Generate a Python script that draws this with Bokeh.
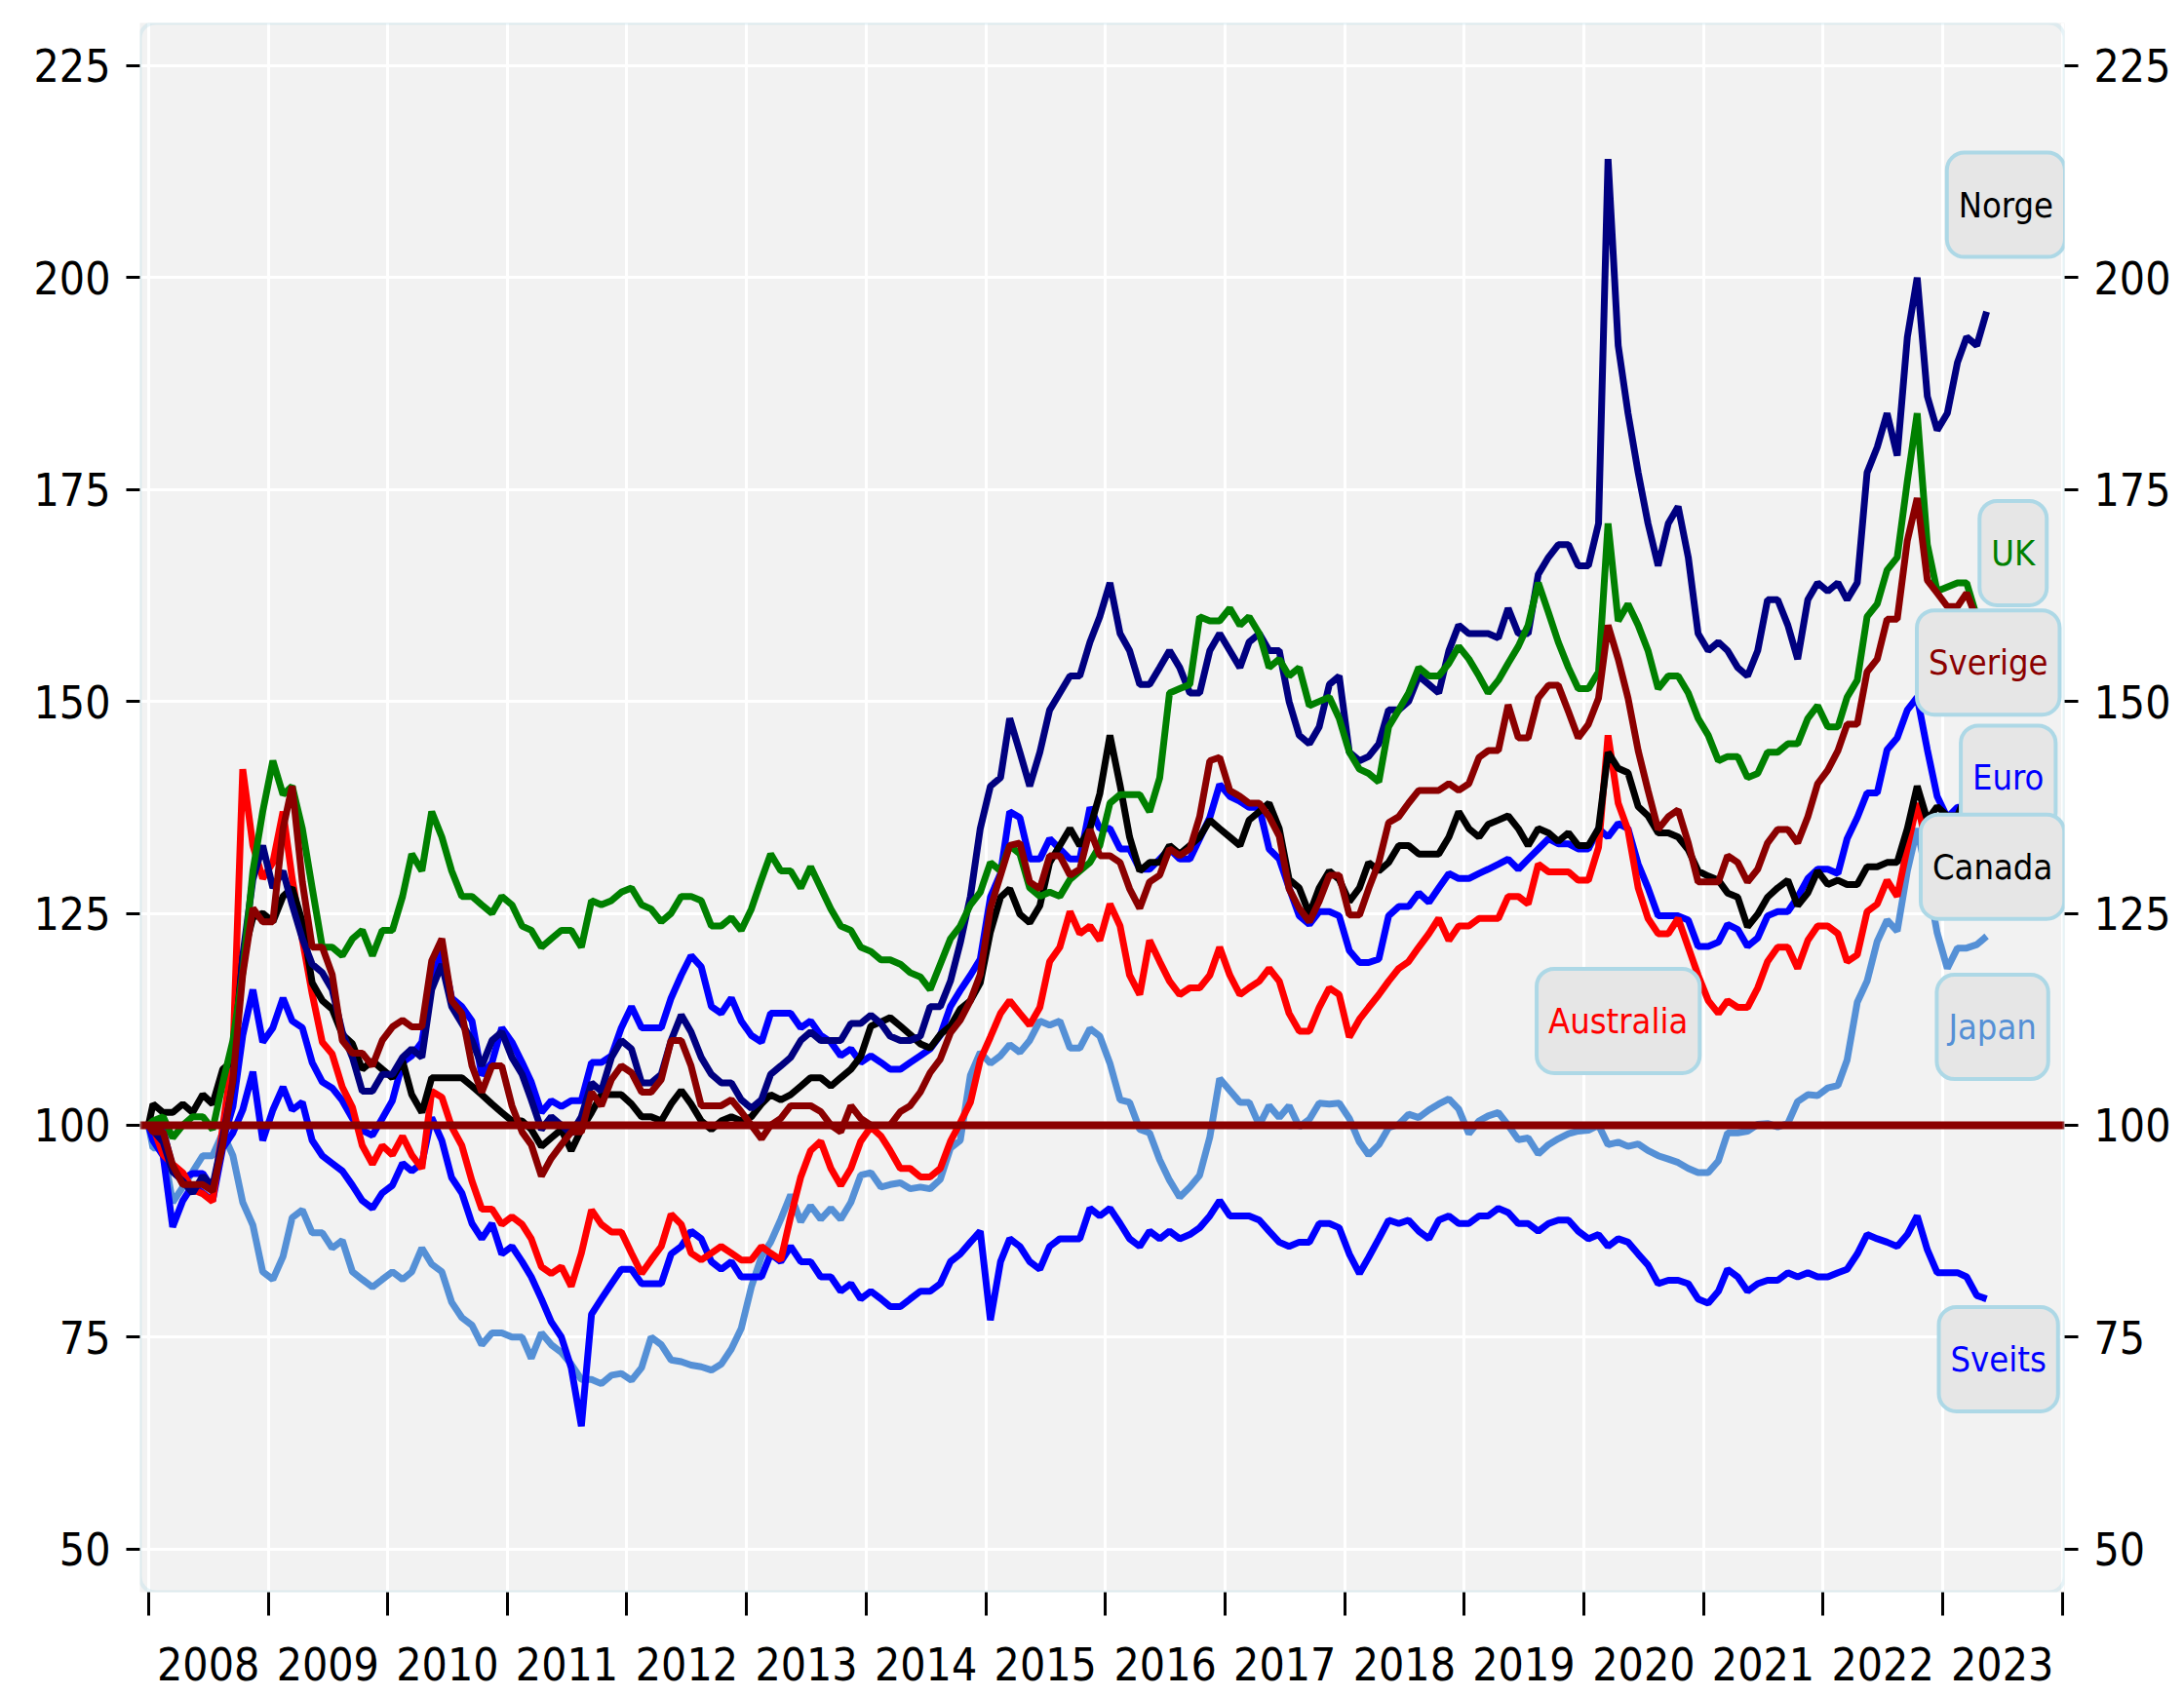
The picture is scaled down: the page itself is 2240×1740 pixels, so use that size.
import pandas as pd
from bokeh.plotting import figure
from bokeh.models import (Range1d, LinearAxis, FixedTicker, CustomJSTickFormatter,
                          Span, Label, BoxAnnotation, ColumnDataSource)
from bokeh.embed import file_html
from bokeh.resources import INLINE

# ---------------- data (index, start of 2008 = 100) ----------------
start_date = "2008-01-01"
first_month = "2008-01-01"
last_month = "2023-05-01"

norge = [100,
 99.4, 98.0, 94.5, 93.4, 92.0, 94.0, 92.8, 98.5, 105.0, 120.0, 129.0, 133.0,
 128, 130, 126, 122, 119, 118, 116, 111, 108, 104, 104, 106,
 106, 108, 109, 108, 116, 119, 114, 112, 110, 107, 110, 111,
 108, 106, 103, 99.5, 101, 100, 99, 101, 105, 104, 108, 110,
 109, 105, 105, 106, 110, 113, 111, 108, 106, 105, 105, 103,
 102, 103, 106, 107, 108, 110, 111, 110, 110, 110, 112, 112,
 113, 112, 110.5, 110, 110, 110.5, 114, 114, 117, 121.5, 127, 135,
 140, 141, 148, 144, 140, 144, 149, 151, 153, 153, 157, 160,
 164, 158, 156, 152, 152, 154, 156, 154, 151, 151, 156, 158,
 156, 154, 157, 158, 156, 156, 150, 146, 145, 147, 152, 153,
 144, 143, 143.5, 145, 149, 149, 150, 153, 152, 151, 156, 159,
 158, 158, 158, 157.5, 161, 158, 158, 165, 167, 168.5, 168.5, 166,
 166, 171, 214, 192, 184, 177, 171, 166, 171, 173, 167, 158,
 156, 157, 156, 154, 153, 156, 162, 162, 159, 155, 162, 164,
 163, 164, 162, 164, 177, 180, 184, 179, 193, 200, 186, 182,
 184, 190, 193, 192, 196]

uk = [100,
 100.5, 101, 98.5, 100, 101, 101, 99.5, 105, 110, 118, 130, 137,
 143, 139, 140, 135, 128, 121, 121, 120, 122, 123, 120, 123,
 123, 127, 132, 130, 137, 134, 130, 127, 127, 126, 125, 127,
 126, 123.5, 123, 121, 122, 123, 123, 121, 126.5, 126, 126.5, 127.5,
 128, 126, 125.5, 124, 125, 127, 127, 126.5, 123.5, 123.5, 124.5, 123,
 125.5, 129, 132, 130, 130, 128, 130.5, 128, 125.5, 123.5, 123, 121,
 120.5, 119.5, 119.5, 119, 118, 117.5, 116, 119, 122, 123.5, 126, 127.5,
 131, 130, 133, 132, 128, 127, 127.5, 127, 129, 130, 131, 133,
 138, 139, 139, 139, 137, 141, 151, 151.5, 152, 160, 159.5, 159.5,
 161, 159, 160, 158, 154, 155, 153, 154, 149.5, 150, 150.5, 148,
 144, 142, 141.5, 140.5, 147, 149, 151, 154, 153, 153, 154.5, 156.5,
 155, 153, 151, 152.5, 154.5, 156.5, 159, 164, 160.5, 157, 154, 151.5,
 151.5, 153.5, 171, 159.5, 161.5, 159, 156, 151.5, 153, 153, 151, 148,
 146, 143, 143.5, 143.5, 141, 141.5, 144, 144, 145, 145, 148, 149.5,
 147, 147, 150.5, 152.5, 160, 161.5, 165.5, 167, 176, 184, 168.5, 163,
 163.5, 164, 164, 160, 159]

sverige = [100,
 99.2, 99.2, 95.3, 93, 93, 93, 92.2, 97.7, 105.4, 117.8, 125.6, 124,
 124, 135, 140, 128.7, 121, 121, 117.8, 110, 108.5, 108.5, 107, 110,
 111.6, 112.4, 111.6, 111.6, 119.4, 122, 114.7, 113.2, 107, 103.9, 107, 107,
 102.3, 99.2, 97.7, 94, 96.1, 97.7, 99.2, 99.2, 103.9, 102.3, 105.4, 107,
 106.2, 103.9, 103.9, 105.4, 110, 110, 107, 102.3, 102.3, 102.3, 103, 101.6,
 100, 98.4, 100, 100.8, 102.3, 102.3, 102.3, 101.6, 100, 99.2, 102.3, 100.8,
 100, 100, 100, 101.6, 102.3, 103.9, 106.2, 107.8, 110.9, 112.4, 114.7, 117.8,
 125.6, 129.5, 133, 133.3, 128.7, 127.9, 131.8, 131.8, 129.5, 130.2, 134.9, 131.8,
 131.8, 131, 127.9, 125.6, 128.7, 129.5, 132.6, 131.8, 132.6, 136.4, 143, 143.4,
 139.5, 138.8, 138, 138, 136.4, 134.1, 127.9, 125.6, 124, 126.4, 129.5, 129.5,
 124.8, 124.8, 127.9, 131, 135.7, 136.4, 138, 139.5, 139.5, 139.5, 140.3, 139.5,
 140.3, 143.4, 144.2, 144.2, 149.6, 145.7, 145.7, 150.4, 151.9, 151.9, 148.8, 145.7,
 147.3, 150.4, 159, 155, 150.4, 144.2, 139.5, 134.9, 136.4, 137.2, 133.3, 128.7,
 128.7, 128.7, 131.8, 131, 128.7, 130.2, 133.3, 134.9, 134.9, 133.3, 136.4, 140.3,
 141.9, 144.2, 147.3, 147.3, 153.5, 155, 159.7, 159.7, 169, 174, 164.3, 162.8,
 161.2, 161.2, 162.8, 159.7, 160.5]

euro = [100,
 100.1, 99.4, 95, 93.7, 94.3, 94.3, 92.5, 98.1, 102.2, 110.6, 116, 109.8,
 111.5, 115, 112.3, 111.5, 107.4, 105.1, 104.4, 102.9, 100.8, 99.4, 98.8, 100.8,
 102.9, 107.4, 108.2, 109.8, 116.8, 120.6, 115, 114, 112.3, 105.9, 107.4, 111.5,
 109.8, 107.4, 105.1, 101.5, 102.9, 102.2, 102.9, 102.9, 107.4, 107.4, 108.2, 111.5,
 114, 111.5, 111.5, 111.5, 115, 117.7, 120, 118.7, 114, 113.2, 115, 112.3,
 110.6, 109.8, 113.2, 113.2, 113.2, 111.5, 112.3, 110.6, 109.8, 108.2, 109, 107.4,
 108.2, 107.4, 106.6, 106.6, 107.4, 108.2, 109, 110.6, 114, 115.9, 117.7, 119.6,
 126.9, 129.7, 137, 136.3, 131.4, 131.4, 133.8, 132.6, 131.4, 131.4, 137.5, 135,
 135, 132.6, 132.6, 130.2, 130.2, 131.4, 132.6, 131.4, 131.4, 133.8, 136.3, 140.2,
 138.8, 138.2, 137.5, 137.5, 132.6, 131.4, 128, 124.7, 123.7, 125.2, 125.2, 124.7,
 120.6, 119.2, 119.2, 119.6, 124.7, 125.8, 125.8, 127.4, 126.3, 128, 129.7, 129.1,
 129.1, 129.7, 130.2, 130.8, 131.4, 130.2, 131.4, 132.6, 133.8, 133.2, 133.2, 132.6,
 132.6, 135, 134, 135.6, 135, 130.8, 128, 124.7, 124.7, 124.7, 124.2, 121.1,
 121.1, 121.6, 123.7, 123.1, 121.1, 122.1, 124.7, 125.2, 125.2, 126.9, 129.1, 130.2,
 130.2, 129.7, 133.8, 136.3, 139.2, 139.2, 144.3, 145.7, 149, 150.5, 144.3, 138.8,
 136.3, 137.5, 137.5, 134.4, 133.8]

canada = [100,
 102.5, 101.5, 101.5, 102.5, 101.5, 103.6, 102.5, 106.6, 107.6, 119.8, 124.5, 125,
 124, 127, 128, 124, 116.8, 114.7, 113.7, 110.7, 109.6, 106.6, 107.6, 106.6,
 105.6, 107.6, 103.6, 101.5, 105.6, 105.6, 105.6, 105.6, 104.6, 103.6, 102.5, 101.5,
 100.5, 100.5, 99.5, 97.5, 98.5, 99.5, 97, 99.5, 101.5, 103.6, 103.6, 103.6,
 102.5, 101, 101, 100.5, 102.5, 104.1, 102.5, 100.5, 99.5, 100.5, 101, 100.5,
 101, 102.5, 103.6, 103, 103.6, 104.6, 105.6, 105.6, 104.6, 105.6, 106.6, 108.1,
 111.7, 112.2, 112.7, 111.7, 110.7, 109.6, 109.1, 110.7, 111.7, 113.7, 114.7, 116.8,
 122.8, 126.9, 127.9, 124.9, 123.9, 125.9, 131, 133, 135, 133, 135, 139.1,
 146, 140.1, 134, 130, 131, 131, 133, 132, 133, 134, 136, 135,
 134, 133, 136, 137, 138, 135, 129, 128, 124.9, 128, 130, 129,
 126.4, 128, 131, 130, 131, 133, 133, 132, 132, 132, 134, 137,
 135, 134, 135.5, 136, 136.5, 135, 133, 135, 134.5, 133.5, 134.5, 133,
 133, 135, 144, 142.1, 141.6, 137.6, 136.5, 134.5, 134.5, 134, 132.5, 130,
 129.4, 128.9, 127.4, 126.9, 123.4, 124.9, 126.9, 128, 128.9, 125.9, 127.4, 130,
 128.4, 128.9, 128.4, 128.4, 130.5, 130.5, 131, 131, 135, 140, 136, 137.6,
 136.5, 136.5, 139.1, 137, 137.6]

australia = [100,
 99.8, 96.5, 95.4, 94.4, 92.4, 91.9, 91, 99.8, 108.4, 142, 133, 129.1,
 131, 137, 129.1, 121.9, 115.5, 109.8, 108.4, 104.5, 102.1, 97.6, 95.4, 97.6,
 96.5, 98.7, 96.5, 94.9, 104, 103.3, 99.8, 97.6, 93.4, 90.1, 90.1, 88.3,
 89.2, 88.3, 86.6, 83.3, 82.5, 83.3, 81, 84.9, 90, 88.3, 87.4, 87.4,
 84.9, 82.5, 84.1, 85.7, 89.5, 88.3, 84.9, 84.1, 84.9, 85.7, 84.9, 84.1,
 84.1, 85.7, 84.9, 84.1, 89.2, 93.9, 97, 98.1, 94.9, 92.9, 94.9, 98.1,
 99.8, 98.7, 97, 94.9, 94.9, 93.9, 93.9, 94.9, 98.1, 100.3, 102.7, 107.7,
 110.4, 113.2, 114.7, 113.2, 111.8, 113.9, 119.3, 121, 125.2, 122.6, 123.5, 121.8,
 126.1, 123.5, 117.7, 115.4, 121.8, 119.3, 117, 115.4, 116.2, 116.2, 117.7, 121,
 117.7, 115.4, 116.2, 117, 118.5, 117, 113.2, 111.1, 111.1, 113.9, 116.2, 115.4,
 110.4, 112.5, 113.9, 115.4, 117, 118.5, 119.3, 121, 122.6, 124.4, 121.8, 123.5,
 123.5, 124.4, 124.4, 124.4, 127, 127, 126.1, 130.8, 129.9, 129.9, 129.9, 128.9,
 128.9, 132.8, 146, 138, 134.8, 128, 124.4, 122.6, 122.6, 124.4, 121, 117.7,
 114.7, 113.2, 114.7, 113.9, 113.9, 116.2, 119.3, 121, 121, 118.5, 121.8, 123.5,
 123.5, 122.6, 119.3, 120.1, 125.2, 126.1, 128.9, 127, 132.8, 138, 132.8, 130.8,
 125.5, 125, 131.8, 131.8, 132.8]

japan = [100,
 97.3, 97.3, 90.9, 92.7, 94.5, 96.4, 96.4, 99.1, 96.4, 90.9, 88.2, 82.7,
 81.8, 84.5, 89.1, 90, 87.3, 87.3, 85.5, 86.4, 82.7, 81.8, 80.9, 81.8,
 82.7, 81.8, 82.7, 85.5, 83.6, 82.7, 79.1, 77.3, 76.4, 74.1, 75.5, 75.5,
 75, 75, 72.5, 75.5, 74.1, 73.2, 71.8, 70, 70, 69.5, 70.5, 70.7,
 69.9, 71.4, 75, 74.1, 72.3, 72.1, 71.7, 71.5, 71.1, 71.8, 73.6, 76,
 80.9, 84.5, 86.2, 88.9, 91.8, 88.6, 90.5, 88.9, 90.2, 88.9, 90.9, 94.1,
 94.4, 92.7, 93, 93.2, 92.5, 92.7, 92.5, 93.6, 97.3, 98.2, 105.9, 108.6,
 107.3, 108.2, 109.5, 108.6, 110, 112.3, 111.8, 112.3, 109.1, 109.1, 111.4, 110.5,
 107.3, 103, 102.7, 99.5, 99.1, 95.9, 93.5, 91.5, 92.7, 94.1, 98.6, 105.5,
 104.1, 102.7, 102.7, 100, 102.3, 100.9, 102.3, 99.8, 100.7, 102.6, 102.5, 102.6,
 100.8, 98, 96.5, 97.7, 99.7, 100.1, 101.3, 100.9, 101.8, 102.5, 103.1, 101.9,
 99, 100.5, 101.1, 101.5, 100, 98.3, 98.5, 96.6, 97.7, 98.4, 99, 99.3,
 99.4, 100, 97.7, 98, 97.5, 97.8, 97, 96.4, 96, 95.6, 94.9, 94.4,
 94.4, 95.8, 99.1, 99.1, 99.3, 100.1, 100.2, 99.8, 100.2, 102.8, 103.6, 103.5,
 104.4, 104.7, 107.7, 114.5, 117, 121.7, 124.2, 122.9, 130, 135, 129.1, 122.7,
 118.5, 120.9, 120.9, 121.3, 122.3]

sveits = [100,
 98.2, 96.4, 88, 91.1, 92.9, 92, 91.1, 97.3, 99.1, 101.8, 106.3, 98.2,
 101.8, 104.5, 101.8, 102.7, 98.2, 96.4, 95.5, 94.6, 92.9, 91.1, 90.2, 92,
 92.9, 95.5, 94.6, 95.5, 100.9, 98.2, 93.8, 92, 88.4, 86.6, 88.4, 84.8,
 85.7, 83.9, 82.1, 79.5, 76.8, 75, 71.4, 64.5, 77.7, 79.5, 81.3, 83,
 83, 81.3, 81.3, 81.3, 84.8, 85.7, 87.5, 86.6, 83.9, 83, 83.9, 82.1,
 82.1, 82.1, 84.8, 83.9, 85.7, 83.9, 83.9, 82.1, 82.1, 80.4, 81.3, 79.5,
 80.4, 79.5, 78.6, 78.6, 79.5, 80.4, 80.4, 81.3, 83.9, 84.8, 86.2, 87.5,
 77, 83.9, 86.6, 85.7, 83.9, 83, 85.7, 86.6, 86.6, 86.6, 90.2, 89.3,
 90.2, 88.4, 86.6, 85.7, 87.5, 86.6, 87.5, 86.6, 87.1, 87.9, 89.3, 91.1,
 89.3, 89.3, 89.3, 88.8, 87.5, 86.2, 85.7, 86.2, 86.2, 88.4, 88.4, 87.9,
 84.8, 82.5, 84.4, 86.6, 88.8, 88.4, 88.8, 87.5, 86.6, 88.8, 89.3, 88.4,
 88.4, 89.3, 89.3, 90.2, 89.7, 88.4, 88.4, 87.5, 88.4, 88.8, 88.8, 87.5,
 86.6, 87.1, 85.7, 86.6, 86.2, 84.8, 83.5, 81.3, 81.7, 81.7, 81.3, 79.5,
 79, 80.4, 83, 82.1, 80.4, 81.3, 81.7, 81.7, 82.6, 82.1, 82.6, 82.1,
 82.1, 82.6, 83, 84.8, 87.1, 86.6, 86.2, 85.7, 87.1, 89.3, 85.3, 82.6,
 82.6, 82.6, 82.1, 79.9, 79.5]

series_names = ["Japan", "Sveits", "Euro", "Australia", "Canada", "Norge", "UK", "Sverige"]
series_values = [japan, sveits, euro, australia, canada, norge, uk, sverige]
series_colors = ["#5590D6", "#0000FF", "#0000FF", "#FF0000", "#000000", "#000080", "#008000", "#8B0000"]

y_ticks = [50, 75, 100, 125, 150, 175, 200, 225]
year_ticks = list(range(2008, 2025))
year_labels = list(range(2008, 2024))

# label boxes: (name, date, value, colour)
labels = [
    ("Norge", "2023-07-13", 208.6, "#000000"),
    ("UK", "2023-08-04", 167.5, "#008000"),
    ("Sverige", "2023-05-20", 154.6, "#8B0000"),
    ("Euro", "2023-07-20", 141.0, "#0000FF"),
    ("Canada", "2023-06-02", 130.5, "#000000"),
    ("Australia", "2020-04-15", 112.3, "#FF0000"),
    ("Japan", "2023-06-02", 111.6, "#5590D6"),
    ("Sveits", "2023-06-20", 72.4, "#0000FF"),
]

# ---------------- build ----------------
months = pd.date_range(first_month, last_month, freq="MS") + pd.Timedelta(days=14)
dates = pd.DatetimeIndex([pd.Timestamp(start_date)]).append(months)
for s in series_values:
    assert len(s) == len(dates), (len(s), len(dates))

data = {"date": dates}
for n, v in zip(series_names, series_values):
    data[n] = v
src = ColumnDataSource(data)


def ms(d):
    return pd.Timestamp(d).value / 1e6


FONT = "DejaVu Sans Condensed, Liberation Sans Narrow, sans-serif"

p = figure(width=2240, height=1740, x_axis_type="datetime",
           output_backend="svg", toolbar_location=None,
           x_range=Range1d(ms("2007-12-06"), ms("2024-01-08")),
           y_range=Range1d(44.9, 230.06),
           min_border_left=143, min_border_right=123,
           min_border_top=23, min_border_bottom=107)

p.background_fill_color = "#F2F2F2"
p.border_fill_color = "white"
p.outline_line_color = None

# grid
p.xgrid.ticker = FixedTicker(ticks=[ms(f"{y}-01-01") for y in year_ticks])
p.ygrid.ticker = FixedTicker(ticks=y_ticks)
for g in (p.xgrid, p.ygrid):
    g.grid_line_color = "white"
    g.grid_line_width = 3

# x axis: ticks at year starts (minor), labels centred in each year (major)
xa = p.xaxis[0]
xa.ticker = FixedTicker(ticks=[ms(f"{y}-07-02") for y in year_labels],
                        minor_ticks=[ms(f"{y}-01-01") for y in year_ticks])
xa.formatter = CustomJSTickFormatter(code="return String(new Date(tick).getUTCFullYear());")
xa.axis_line_color = None
xa.major_tick_line_color = None
xa.major_tick_out = 24
xa.major_tick_in = 0
xa.minor_tick_line_color = "black"
xa.minor_tick_line_width = 3
xa.minor_tick_out = 24
xa.minor_tick_in = 0
xa.major_label_standoff = 32

# y axes
p.add_layout(LinearAxis(), "right")
for ya in p.yaxis:
    ya.ticker = FixedTicker(ticks=y_ticks)
    ya.axis_line_color = None
    ya.major_tick_line_color = "black"
    ya.major_tick_line_width = 3
    ya.major_tick_out = 14
    ya.major_tick_in = 0
    ya.minor_tick_line_color = None
    ya.major_label_standoff = 16

for ax in list(p.xaxis) + list(p.yaxis):
    ax.major_label_text_font = FONT
    ax.major_label_text_font_size = "46px"
    ax.major_label_text_color = "black"

# lines
for n, c in zip(series_names, series_colors):
    p.line(x="date", y=n, source=src, line_color=c, line_width=7)

# reference line at 100
p.add_layout(Span(location=100, dimension="width", line_color="#8B0000", line_width=8))

# rounded frame border
p.add_layout(BoxAnnotation(fill_alpha=0, line_color="#ADD8E6", line_width=4,
                           border_radius=16))

for text, d, yv, col in labels:
    p.add_layout(Label(x=ms(d), y=yv, text=text, text_color=col,
                       text_font=FONT, text_font_size="36px",
                       text_align="center", text_baseline="middle",
                       background_fill_color="#E6E6E6",
                       border_line_color="#ADD8E6", border_line_width=4,
                       border_radius=18, padding=(12, 33)))

open("out.html", "w").write(file_html(p, INLINE))
